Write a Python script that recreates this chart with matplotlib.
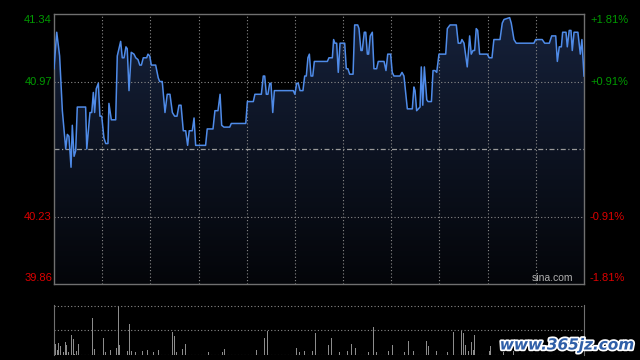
import numpy as np
import matplotlib
matplotlib.use("Agg")
import matplotlib.pyplot as plt
import matplotlib.patheffects as pe

# intraday price (minutes after open, price)
minutes = [0, 1.7, 3.5, 5.2, 7.3, 8.3, 9.3, 10.6, 11.4, 12.5, 13.5, 14.5, 19.7, 20.4,
           22.4, 23.5, 24.5, 25.3, 26.3, 27.6, 28.6, 29.7, 31.1, 32.2, 33.6, 34.2,
           35.7, 38.4, 39.4, 41.5, 42.5, 43.6, 44.8, 45.6, 46.7, 48.1, 49.8, 50.9,
           52.3, 53.4, 54.4, 55.6, 57.7, 58.5, 59.6, 60.6, 63.3, 64.9, 65.8, 67.4,
           69.1, 70.5, 72.2, 73.7, 75.1, 76.6, 77.8, 79.1, 80.5, 82.0, 83.2, 84.2,
           86.1, 87.2, 88.2, 94.4, 95.4, 99.0, 100.2, 102.1, 103.4, 104.4, 105.8,
           109.4, 110.4, 119.4, 120.4, 124.1, 125.1, 129.1, 130.3, 131.2, 132.2,
           133.2, 134.3, 135.1, 136.2, 137.2, 149.0, 150.0, 151.1, 152.1, 153.2,
           155.0, 156.1, 157.1, 158.1, 159.0, 160.0, 161.1, 162.1, 168.1, 170.2,
           171.2, 173.3, 174.1, 174.9, 176.0, 177.0, 178.1, 181.0, 182.0, 183.0,
           184.1, 186.2, 187.2, 189.1, 189.9, 191.1, 191.9, 193.2, 194.1, 195.1,
           195.9, 196.9, 198.2, 199.2, 200.9, 201.9, 205.5, 206.7, 207.8, 209.6,
           210.6, 211.7, 215.4, 216.7, 217.9, 220.0, 223.1, 224.1, 224.8, 225.8,
           227.9, 228.7, 229.6, 230.6, 232.1, 232.9, 235.0, 236.0, 237.2, 238.3,
           239.7, 243.9, 244.9, 246.6, 250.5, 251.7, 253.2, 254.0, 255.3, 257.3,
           258.8, 259.8, 260.9, 261.9, 262.9, 263.8, 265.0, 269.8, 271.0, 272.7,
           273.9, 277.7, 279.1, 280.2, 283.7, 284.7, 286.4, 287.8, 298.8, 299.9,
           304.0, 305.5, 308.4, 309.9, 312.4, 313.4, 314.6, 315.9, 316.7, 318.8,
           319.6, 320.8, 321.9, 322.7, 323.8, 326.2, 327.7, 328.7, 330]
prices = [41.04, 41.24, 41.11, 40.81, 40.60, 40.68, 40.67, 40.50, 40.73, 40.56, 40.59,
          40.83, 40.83, 40.60, 40.80, 40.80, 40.91, 40.80, 40.93, 40.96, 40.78, 40.78,
          40.66, 40.63, 40.63, 40.85, 40.76, 40.76, 41.11, 41.19, 41.10, 41.10, 41.16,
          41.15, 40.92, 41.13, 41.12, 41.10, 41.09, 41.06, 41.06, 41.10, 41.10, 41.12,
          41.11, 41.06, 41.06, 40.99, 40.97, 40.97, 40.80, 40.90, 40.90, 40.80, 40.78,
          40.78, 40.84, 40.84, 40.70, 40.70, 40.62, 40.70, 40.70, 40.77, 40.62, 40.62,
          40.71, 40.71, 40.81, 40.81, 40.90, 40.73, 40.72, 40.72, 40.74, 40.74, 40.86,
          40.86, 40.90, 40.90, 41.00, 41.00, 40.90, 40.90, 40.96, 40.96, 40.80, 40.92,
          40.92, 40.90, 40.96, 40.96, 40.92, 40.92, 41.00, 41.00, 41.10, 41.12, 41.00,
          41.00, 41.08, 41.08, 41.08, 41.10, 41.10, 41.20, 41.18, 41.18, 41.02, 41.18,
          41.18, 41.04, 41.04, 41.01, 41.01, 41.28, 41.28, 41.26, 41.14, 41.14, 41.24,
          41.24, 41.12, 41.12, 41.22, 41.24, 41.04, 41.04, 41.08, 41.08, 41.03, 41.12,
          41.12, 41.02, 41.00, 41.00, 41.02, 41.00, 40.82, 40.82, 40.94, 40.92, 40.81,
          40.83, 41.05, 40.84, 41.05, 40.87, 40.86, 40.86, 41.03, 41.03, 41.02, 41.12,
          41.12, 41.26, 41.28, 41.28, 41.18, 41.18, 41.20, 41.18, 41.05, 41.22, 41.12,
          41.14, 41.14, 41.26, 41.25, 41.12, 41.12, 41.10, 41.10, 41.20, 41.20, 41.29,
          41.31, 41.32, 41.29, 41.20, 41.18, 41.18, 41.20, 41.20, 41.18, 41.18,
          41.22, 41.22, 41.08, 41.16, 41.16, 41.24, 41.24, 41.16, 41.25, 41.25, 41.14,
          41.24, 41.24, 41.12, 41.20, 41.00]

# volume bars (minute, relative volume)
vol_minutes = [1, 2, 3, 4, 5, 6, 7, 8, 9, 11, 12, 13, 14, 15, 24, 25, 28, 31, 32, 33,
               35, 39, 40, 41, 46, 47, 48, 51, 55, 58, 62, 65, 71, 74, 75, 76, 80, 82,
               96, 105, 106, 126, 131, 133, 151, 153, 156, 161, 163, 165, 171, 173,
               178, 183, 185, 188, 193, 196, 198, 199, 201, 208, 211, 218, 221, 224,
               226, 232, 233, 236, 238, 245, 249, 254, 255, 256, 258, 260, 261, 262,
               271, 272, 280, 286]
vol_values = [10.7, 4.7, 11.7, 9, 23, 3.3, 13, 10, 3.3, 20, 16, 1.3, 4, 10.7, 37, 5.7,
              4.7, 17, 3, 4.7, 4.7, 6.7, 48.3, 10, 4, 30.7, 4, 3, 4, 4.7, 3, 4.7, 9,
              23.3, 19, 3, 5.7, 11, 3, 3, 5.7, 4.7, 17, 24.3, 6.7, 3, 4, 4, 22, 3, 10,
              17, 3, 4, 10.7, 6.7, 9, 3, 10, 28, 3, 4, 10, 3, 13.7, 4, 5.7, 13.7, 9,
              28, 4, 3, 23, 24, 22, 10, 4, 12.7, 4.7, 20, 4, 9, 3, 4]

prev_close = 40.60
price_ticks = [39.86, 40.23, 40.97, 41.34]
price_labels = ["39.86", "40.23", "40.97", "41.34"]
pct_labels = ["-1.81%", "-0.91%", "+0.91%", "+1.81%"]
label_colors = ["#dd0000", "#dd0000", "#009a00", "#009a00"]
label_shift = [6, 0, 0, -6]  # edge labels sit inside the frame

fig = plt.figure(figsize=(6.4, 3.6), dpi=100, facecolor="black")
ax = fig.add_axes([54 / 640, 1 - 284 / 360, 530 / 640, 270 / 360])
vax = fig.add_axes([54 / 640, 1 - 355 / 360, 530 / 640, 50 / 360])

grid_color = "#8a8a8a"
for a in (ax, vax):
    a.set_facecolor("black")
    a.set_xlim(0, 330)
    a.set_xticks([])
    a.set_yticks([])

ax.set_ylim(39.86, 41.34)
for s in ax.spines.values():
    s.set_color("#707070")
    s.set_linewidth(1)

# gradient area under the line
poly = ax.fill_between(minutes, prices, 39.86, color="none")
grad = np.linspace(0, 1, 256).reshape(-1, 1)
top = np.array([0.085, 0.13, 0.23])
bot = np.array([0.015, 0.02, 0.035])
img = top * grad[..., None] + bot * (1 - grad[..., None])
im = ax.imshow(img, extent=[0, 330, 39.86, 41.34], origin="lower", aspect="auto",
               zorder=1)
im.set_clip_path(poly.get_paths()[0], transform=ax.transData)

# grid
for m in range(30, 330, 30):
    ax.axvline(m, color=grid_color, lw=0.8, ls=(0, (1, 2)), zorder=2)
for p in (40.23, 40.97):
    ax.axhline(p, color=grid_color, lw=0.8, ls=(0, (1, 2)), zorder=2)
ax.axhline(prev_close, color="#9a9a9a", lw=0.9, ls=(0, (4, 2, 1, 2)), zorder=2)

ax.plot(minutes, prices, color="#4f8be8", lw=1.1, zorder=3)

for p, lab, pct, c, sh in zip(price_ticks, price_labels, pct_labels, label_colors,
                              label_shift):
    y = ax.transData.transform((0, p))[1] + sh
    yf = fig.transFigure.inverted().transform((0, y))[1]
    fig.text(52 / 640, yf, lab, color=c, fontsize=8, family="Liberation Sans",
             ha="right", va="center")
    fig.text(590 / 640, yf, pct, color=c, fontsize=8, family="Liberation Sans",
             ha="left", va="center")

ax.text(0.98, 0.004, "sina.com", transform=ax.transAxes, color="#b0b0b0",
        fontsize=7.5, family="Liberation Sans", ha="right", va="bottom", zorder=4)

# volume panel
vax.set_ylim(0, 50)
vax.bar(vol_minutes, vol_values, width=0.55, color="#8c8c8c", zorder=3)
for s in ("left", "right"):
    vax.spines[s].set_color("#707070")
for s in ("top", "bottom"):
    vax.spines[s].set_visible(False)
vax.axhline(49.5, color=grid_color, lw=0.8, ls=(0, (1, 2)))
vax.axhline(25, color=grid_color, lw=0.8, ls=(0, (1, 2)))
vax.axhline(0.3, color=grid_color, lw=0.8, ls=(0, (1, 2)))

fig.text(634 / 640, 1 - 345 / 360, "www.365jz.com", color="#2f5fa8", fontsize=11,
         fontweight="bold", fontstyle="italic", ha="right", va="center",
         path_effects=[pe.withStroke(linewidth=2.5, foreground="white")])

fig.savefig("out.png", dpi=100, facecolor="black")
